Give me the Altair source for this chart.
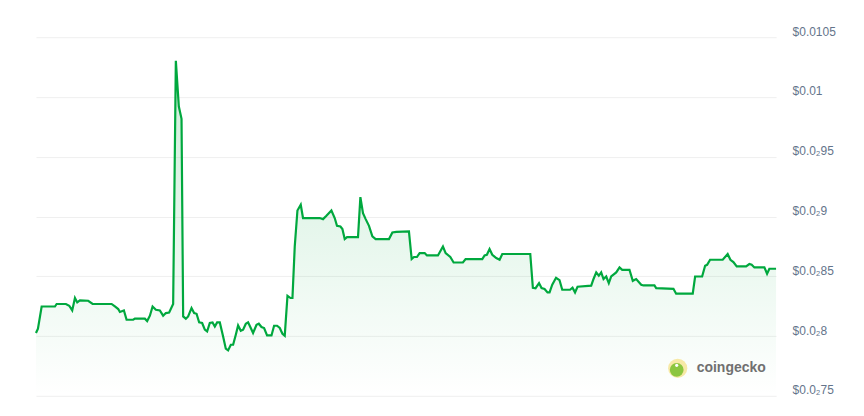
import altair as alt
import pandas as pd

# time in hours over the 7-day window
hours = [0, 0.45, 1.29, 4.31, 4.69, 6.80, 7.55, 8.23, 8.85, 9.37, 9.98, 11.86, 12.86, 17.17,
         17.92, 18.67, 19.05, 19.96, 20.57, 22.07, 22.45, 24.72, 25.24, 25.86, 26.47, 27.22,
         28.12, 28.87, 29.48, 30.23, 31.14, 31.75, 32.43, 33.04, 33.41, 34.02, 34.54, 35.31,
         35.90, 36.45, 37.04, 37.72, 38.33, 38.85, 39.46, 40.08, 40.60, 41.12, 41.73, 42.48,
         43.09, 43.61, 44.23, 44.75, 45.36, 45.88, 46.49, 47.02, 47.63, 48.15, 48.76, 49.28,
         50.06, 50.58, 51.19, 51.78, 52.46, 53.46, 54.05, 54.73, 55.34, 55.95, 56.47, 57.09,
         57.77, 58.22, 58.74, 59.35, 60.10, 60.62, 64.41, 65.16, 65.93, 67.06, 67.81, 68.33,
         69.11, 69.56, 70.08, 70.61, 73.10, 73.64, 74.23, 74.84, 75.59, 76.36, 77.11, 80.13,
         80.90, 81.81, 84.66, 85.28, 85.80, 86.48, 87.09, 88.23, 88.75, 91.24, 92.38, 92.99,
         94.05, 94.80, 96.91, 97.52, 101.31, 101.83, 102.35, 102.96, 103.58, 104.48, 105.24,
         105.85, 112.20, 112.79, 113.40, 114.19, 114.76, 115.44, 116.12, 116.58, 117.19,
         118.05, 118.84, 119.46, 121.23, 121.79, 122.36, 122.93, 126.03, 126.56, 127.17,
         127.76, 128.30, 128.83, 129.44, 130.03, 130.57, 131.71, 132.46, 133.07, 134.72,
         135.47, 136.24, 137.38, 137.90, 140.39, 140.78, 144.70, 145.31, 149.08, 149.62,
         151.21, 151.89, 152.34, 153.02, 155.88, 157.01, 157.63, 158.31, 159.06, 161.19,
         161.94, 162.46, 163.07, 165.34, 165.95, 166.47, 167.99]

# price in units of 1e-4 USD
price_e4 = [80.25, 80.61, 82.47, 82.47, 82.68, 82.68, 82.53, 82.14, 83.18, 82.81, 82.98, 82.95,
            82.68, 82.68, 82.47, 82.26, 82.01, 82.14, 81.36, 81.36, 81.45, 81.45, 81.25, 81.70,
            82.47, 82.20, 82.14, 81.70, 81.92, 81.97, 82.68, 103.02, 99.20, 98.17, 81.64, 81.45,
            81.64, 82.34, 81.92, 81.86, 81.14, 81.09, 80.53, 80.38, 81.09, 81.14, 80.80, 81.14,
            81.14, 79.97, 78.94, 78.80, 79.27, 79.27, 80.11, 80.89, 80.44, 80.53, 81.03, 81.14,
            80.67, 80.25, 80.94, 81.03, 80.75, 80.67, 80.05, 80.05, 80.86, 80.86, 80.67, 80.19,
            80.03, 83.37, 83.18, 83.18, 87.49, 90.50, 90.98, 89.87, 89.87, 89.78, 90.06, 90.50,
            89.87, 89.22, 89.16, 88.95, 88.11, 88.28, 88.28, 91.62, 90.28, 89.78, 89.22, 88.33,
            88.11, 88.11, 88.66, 88.72, 88.75, 86.44, 86.61, 86.61, 86.94, 86.94, 86.74, 86.74,
            87.49, 86.94, 86.61, 86.15, 86.15, 86.44, 86.44, 86.74, 86.80, 87.27, 86.80, 86.52,
            86.38, 86.86, 86.86, 84.04, 84.00, 84.43, 84.01, 83.94, 83.65, 83.65, 84.29, 84.87,
            84.67, 83.87, 83.87, 84.04, 83.65, 84.12, 84.21, 84.77, 85.32, 85.04, 85.32, 84.77,
            84.98, 84.43, 84.98, 85.32, 85.74, 85.54, 85.54, 84.62, 84.77, 84.29, 84.23, 84.23,
            84.01, 83.95, 83.54, 83.54, 84.98, 84.98, 85.88, 85.96, 86.38, 86.38, 86.86, 86.38,
            86.19, 85.82, 85.82, 86.02, 85.96, 85.74, 85.74, 85.21, 85.63, 85.63]

y_ticks = [0.0075, 0.008, 0.0085, 0.009, 0.0095, 0.01, 0.0105]
y_min, y_max = 0.0075, 0.0105
watermark = ["coingecko"]

df = pd.DataFrame({"hour": hours, "price": [p * 1e-4 for p in price_e4]})

label_expr = (
    "datum.value >= 0.00999 ? '$' + format(datum.value, '.4~f') : "
    "'$0.0\u2082' + (round(datum.value * 10000) % 10 == 0 ? "
    "format(round(datum.value * 1000), 'd') : format(round(datum.value * 10000), 'd'))"
)

x_enc = alt.X("hour:Q", scale=alt.Scale(domain=[0, 168], nice=False), axis=None)
y_enc = alt.Y(
    "price:Q",
    scale=alt.Scale(domain=[y_min, y_max], nice=False, zero=False),
    axis=alt.Axis(
        orient="right",
        values=y_ticks,
        labelExpr=label_expr,
        grid=True,
        gridColor="#efefef",
        gridWidth=1,
        ticks=False,
        domain=False,
        labelPadding=16,
        labelFont="Liberation Sans",
        labelFontSize=12,
        labelColor="#64748b",
        labelBaseline="alphabetic",
        labelOffset=-2,
        labelBound=False,
        labelFlush=False,
        title=None,
    ),
)

base = alt.Chart(df)

area = base.mark_area(
    color=alt.Gradient(
        gradient="linear",
        stops=[
            alt.GradientStop(color="rgba(0,168,62,0.20)", offset=0),
            alt.GradientStop(color="rgba(0,168,62,0.0)", offset=1),
        ],
        x1=1, x2=1, y1=0, y2=1,
    ),
    interpolate="linear",
).encode(x=x_enc, y=y_enc, y2=alt.datum(y_min))

line = base.mark_line(color="#00a83e", strokeWidth=2.2, interpolate="linear").encode(
    x=x_enc, y=y_enc
)

wm_df = pd.DataFrame({"t": watermark})
wm = alt.Chart(wm_df)
logo_outer = wm.mark_circle(size=370, color="#f7e9a6", opacity=1).encode(
    x=alt.value(642.5), y=alt.value(331.5)
)
logo_inner = wm.mark_circle(size=190, color="#8cc63f", opacity=1).encode(
    x=alt.value(641.5), y=alt.value(333)
)
logo_eye = wm.mark_circle(size=10, color="#ffffff", opacity=1).encode(
    x=alt.value(641.5), y=alt.value(328.5)
)
wm_text = wm.mark_text(
    align="left", baseline="alphabetic", font="Liberation Sans", fontSize=14,
    fontWeight="bold", color="#707070"
).encode(x=alt.value(661.5), y=alt.value(335), text="t:N")

chart = (
    alt.layer(area, line, logo_outer, logo_inner, logo_eye, wm_text)
    .properties(
        width=741,
        height=359,
        autosize=alt.AutoSizeParams(type="none"),
        padding={"left": 28, "top": 29, "right": 80, "bottom": 20},
        background="white",
    )
    .configure_view(stroke=None)
)

chart.save("out.html", embed_options={"renderer": "svg", "actions": False})
